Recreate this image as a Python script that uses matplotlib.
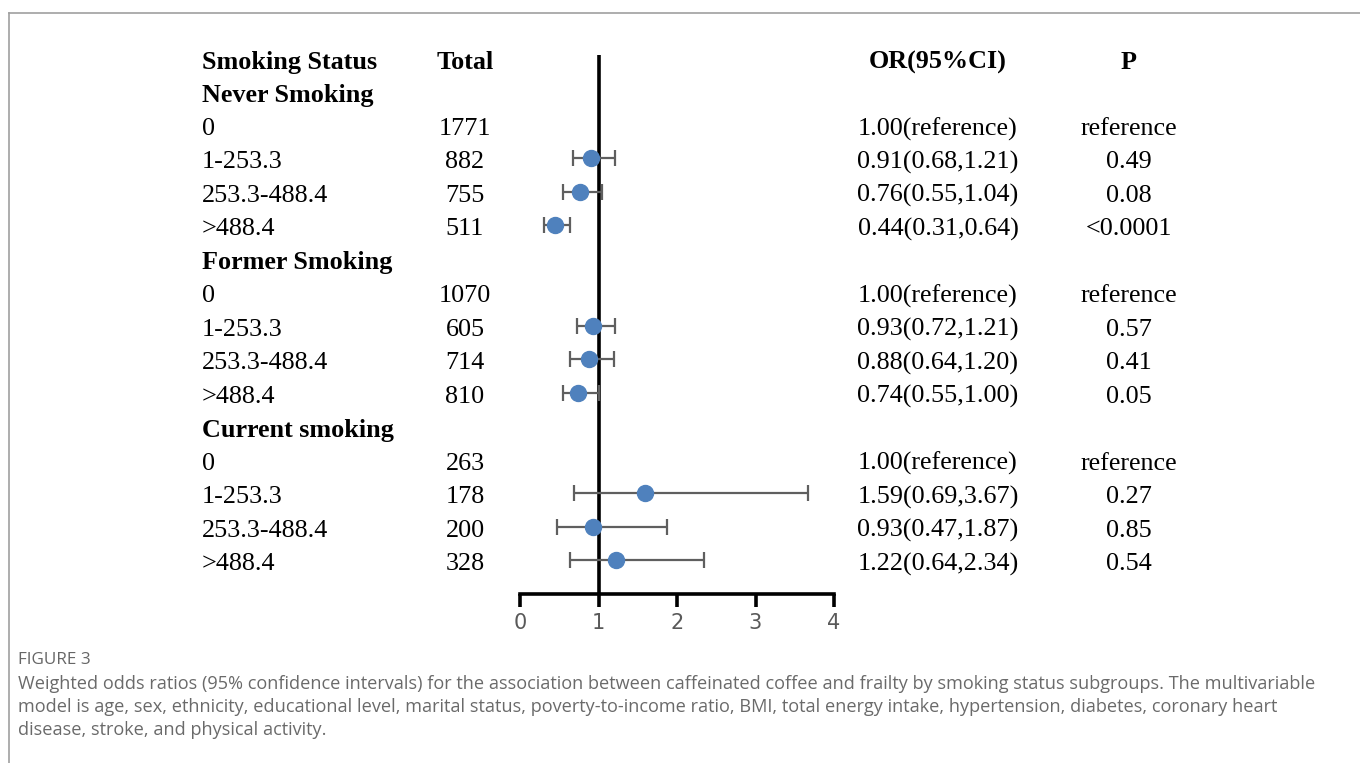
import matplotlib.pyplot as plt
from matplotlib.transforms import blended_transform_factory
from matplotlib.lines import Line2D

# rows of the table, top to bottom
labels = ["Never Smoking", "0", "1-253.3", "253.3-488.4", ">488.4",
          "Former Smoking", "0", "1-253.3", "253.3-488.4", ">488.4",
          "Current smoking", "0", "1-253.3", "253.3-488.4", ">488.4"]
is_group = [True, False, False, False, False,
            True, False, False, False, False,
            True, False, False, False, False]
totals = ["", "1771", "882", "755", "511",
          "", "1070", "605", "714", "810",
          "", "263", "178", "200", "328"]
or_text = ["", "1.00(reference)", "0.91(0.68,1.21)", "0.76(0.55,1.04)", "0.44(0.31,0.64)",
           "", "1.00(reference)", "0.93(0.72,1.21)", "0.88(0.64,1.20)", "0.74(0.55,1.00)",
           "", "1.00(reference)", "1.59(0.69,3.67)", "0.93(0.47,1.87)", "1.22(0.64,2.34)"]
p_text = ["", "reference", "0.49", "0.08", "<0.0001",
          "", "reference", "0.57", "0.41", "0.05",
          "", "reference", "0.27", "0.85", "0.54"]
# point estimates (None = reference row, no marker)
or_val = [None, None, 0.91, 0.76, 0.44,
          None, None, 0.93, 0.88, 0.74,
          None, None, 1.59, 0.93, 1.22]
ci_low = [None, None, 0.68, 0.55, 0.31,
          None, None, 0.72, 0.64, 0.55,
          None, None, 0.69, 0.47, 0.64]
ci_high = [None, None, 1.21, 1.04, 0.64,
           None, None, 1.21, 1.20, 1.00,
           None, None, 3.67, 1.87, 2.34]
headers = ["Smoking Status", "Total", "OR(95%CI)", "P"]
xticks = [0, 1, 2, 3, 4]

W, H = 1360, 763
fig = plt.figure(figsize=(W / 100, H / 100), dpi=100)
fig.patch.set_facecolor("white")

# forest plot axes, positioned in pixels
x0, x1 = 520, 834
ytop, ybot = 55, 594
ax = fig.add_axes([x0 / W, 1 - ybot / H, (x1 - x0) / W, (ybot - ytop) / H])
row0, step = 60, 33.47
ax.set_ylim((ybot - row0) / step, (ytop - row0) / step)
ax.set_xlim(0, 4)

ys = list(range(1, len(labels) + 1))
for y, v, lo, hi in zip(ys, or_val, ci_low, ci_high):
    if v is None:
        continue
    ax.errorbar(v, y - 0.06, xerr=[[v - lo], [hi - v]], fmt="none", ecolor="#5f5f5f",
                elinewidth=1.6, capsize=6, capthick=1.6, zorder=2)
    ax.plot(v, y - 0.06, "o", color="#4f81bd", markersize=11.5, zorder=3)

ax.axvline(1, color="black", lw=2.6, zorder=1)
for s in ["top", "left", "right"]:
    ax.spines[s].set_visible(False)
ax.spines["bottom"].set_linewidth(2.6)
ax.set_yticks([])
ax.set_xticks(xticks)
ax.tick_params(axis="x", length=9, width=2.6, pad=5, labelsize=15,
               labelcolor="#595959", color="black")
for t in ax.get_xticklabels():
    t.set_family("DejaVu Sans")

# table text
tr = blended_transform_factory(fig.transFigure, ax.transData)
serif = "Liberation Serif"
fs = 18.8
col_x = [202, 465, 938, 1129]
dy = 0.06  # text sits a little lower than the row centre
kw = dict(transform=tr, va="center", fontsize=fs, family=serif, clip_on=False)
ax.text(col_x[0] / W, dy, headers[0], ha="left", fontweight="bold", **kw)
ax.text(col_x[1] / W, dy, headers[1], ha="center", fontweight="bold", **kw)
ax.text(col_x[2] / W, dy, headers[2], ha="center", fontweight="bold", **kw)
ax.text(col_x[3] / W, dy, headers[3], ha="center", fontweight="bold", **kw)
for y, lab, g, tot, ort, pt in zip(ys, labels, is_group, totals, or_text, p_text):
    ax.text(col_x[0] / W, y + dy, lab, ha="left", fontweight="bold" if g else "normal", **kw)
    ax.text(col_x[1] / W, y + dy, tot, ha="center", **kw)
    ax.text(col_x[2] / W, y + dy, ort, ha="center", **kw)
    ax.text(col_x[3] / W, y + dy, pt, ha="center", **kw)

# page frame
fig.add_artist(Line2D([9 / W, 1], [1 - 13 / H, 1 - 13 / H], transform=fig.transFigure,
                      color="#a0a0a0", lw=1.2))
fig.add_artist(Line2D([9 / W, 9 / W], [0, 1 - 13 / H], transform=fig.transFigure,
                      color="#a0a0a0", lw=1.2))

# caption
fig.text(18 / W, 1 - 660 / H, "FIGURE 3", fontsize=12.3, color="#666666",
         family="Open Sans", va="center")
caption = ("Weighted odds ratios (95% confidence intervals) for the association between caffeinated coffee "
           "and frailty by smoking status subgroups. The multivariable\n"
           "model is age, sex, ethnicity, educational level, marital status, poverty-to-income ratio, BMI, "
           "total energy intake, hypertension, diabetes, coronary heart\n"
           "disease, stroke, and physical activity.")
fig.text(18 / W, 1 - 675 / H, caption, fontsize=13.1, color="#6a6a6a",
         family="Open Sans", va="top", linespacing=1.35)

fig.savefig("out.png", dpi=100, facecolor="white")
